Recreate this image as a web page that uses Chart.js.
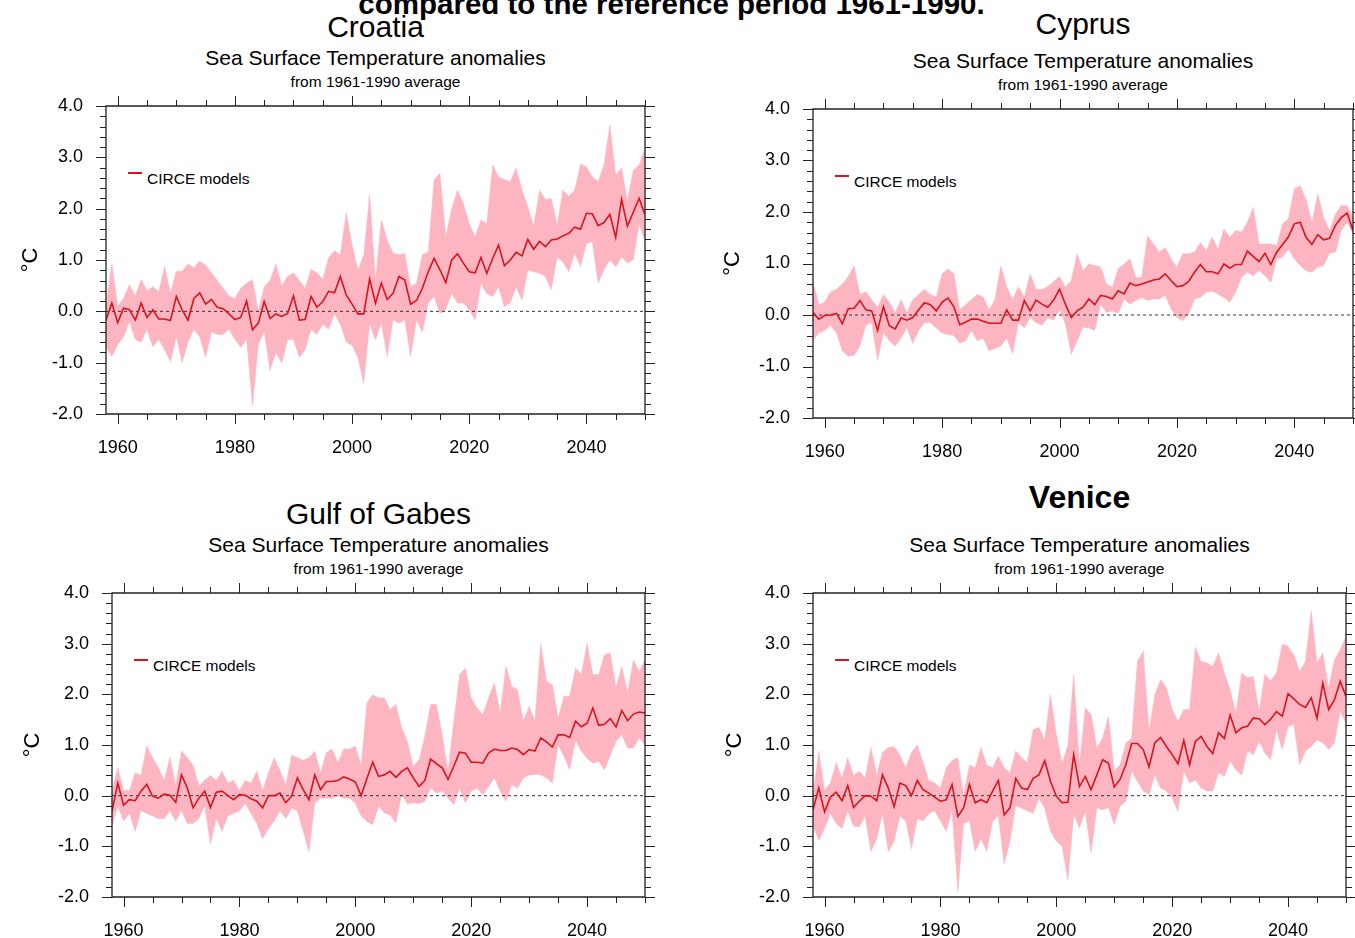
<!DOCTYPE html>
<html><head><meta charset="utf-8">
<script src="https://cdn.jsdelivr.net/npm/chart.js@4.4.0/dist/chart.umd.min.js"></script>
<style>
html,body{margin:0;padding:0;background:#fff;width:1355px;height:938px;overflow:hidden;position:relative;font-family:"Liberation Sans",Arial,Helvetica,sans-serif;}
canvas{position:absolute;}
.t{position:absolute;transform:translate(-50%,-50%);line-height:1;white-space:nowrap;color:#000;}
.legtxt{position:absolute;transform:translateY(-50%);line-height:1;white-space:nowrap;color:#000;font-size:15.5px;}
.legdash{position:absolute;width:14px;height:2px;background:#d7141e;}
</style></head><body>
<div class="t" style="left:671.5px;top:4px;font-size:29.5px;font-weight:bold;">compared to the reference period 1961-1990.</div>
<script>
// ---------------- data ----------------
const years = [];
for (let y = 1958; y <= 2050; y++) years.push(y);
const xTickYears = [1960, 1980, 2000, 2020, 2040];
const yTickVals = [-2, -1, 0, 1, 2, 3, 4];

const croatiaMean = [-0.17,0.16,-0.22,0.06,0.03,-0.17,0.16,-0.12,0.03,-0.15,-0.15,-0.18,0.29,0.03,-0.17,0.25,0.36,0.14,0.23,0.08,0.05,-0.05,-0.16,-0.12,0.20,-0.36,-0.23,0.19,-0.14,-0.05,-0.10,-0.04,0.30,-0.17,-0.16,0.29,0.08,0.19,0.39,0.36,0.68,0.32,0.14,-0.05,-0.05,0.63,0.16,0.55,0.23,0.35,0.68,0.61,0.14,0.21,0.45,0.77,1.03,0.81,0.56,1.00,1.12,0.94,0.77,0.75,1.05,0.74,1.03,1.29,0.89,1.00,1.15,1.08,1.40,1.21,1.36,1.26,1.39,1.41,1.47,1.52,1.64,1.60,1.91,1.90,1.67,1.73,1.89,1.44,2.18,1.66,1.93,2.20,1.88];
const croatiaMax = [0.10,0.94,0.10,0.25,0.52,0.30,0.62,0.40,0.48,0.38,0.88,0.35,0.78,0.78,0.92,0.85,0.98,0.90,0.75,0.60,0.45,0.30,0.25,0.45,0.55,0.62,0.00,0.48,0.60,0.92,0.50,0.68,0.75,0.60,0.45,0.82,0.75,0.62,1.05,1.18,1.10,1.92,1.30,0.80,1.10,2.28,0.60,1.78,1.39,1.13,1.10,1.13,0.48,0.55,1.10,1.16,2.56,2.69,1.45,2.00,2.36,2.10,1.71,1.45,1.78,1.71,2.85,2.62,2.57,2.53,2.79,2.36,2.04,1.66,2.36,2.18,2.20,1.68,2.36,2.24,2.36,2.87,2.81,2.62,2.53,2.85,3.63,2.66,2.79,2.14,2.75,2.85,3.18];
const croatiaMin = [-0.70,-0.88,-0.65,-0.50,-0.20,-0.55,-0.60,-0.35,-0.69,-0.55,-0.75,-0.98,-0.50,-0.99,-0.60,-0.35,-0.50,-0.90,-0.40,-0.45,-0.45,-0.35,-0.55,-0.70,-0.55,-1.85,-0.65,-0.40,-1.15,-0.80,-1.00,-0.55,-0.55,-0.90,-0.75,-0.35,-0.45,-0.25,-0.35,-0.05,-0.25,-0.60,-0.66,-0.90,-1.40,-0.23,-0.56,-0.23,-0.88,-0.17,-0.23,-0.17,-0.88,-0.17,-0.40,0.16,0.29,-0.04,0.03,0.35,0.16,0.16,0.03,-0.17,0.55,0.34,0.29,0.48,0.09,0.16,0.48,0.22,0.80,0.77,0.74,0.68,0.42,1.06,0.96,0.77,1.13,0.87,1.32,1.36,0.55,0.81,1.00,0.87,1.06,0.94,1.00,1.71,1.36];

const cyprusMean = [0.05,-0.08,-0.01,0.00,0.03,-0.17,0.12,0.13,0.28,0.10,0.08,-0.30,0.16,-0.21,-0.27,-0.06,-0.10,-0.05,0.10,0.24,0.20,0.08,0.25,0.33,0.16,-0.19,-0.14,-0.08,-0.08,-0.12,-0.16,-0.16,-0.16,0.10,-0.10,-0.10,0.28,0.08,0.29,0.21,0.15,0.29,0.50,0.21,-0.05,0.08,0.15,0.31,0.20,0.38,0.36,0.31,0.47,0.41,0.62,0.57,0.60,0.64,0.68,0.70,0.80,0.67,0.55,0.57,0.65,0.83,0.98,0.84,0.84,0.80,0.99,0.91,0.98,0.98,1.24,1.14,1.04,1.20,0.98,1.22,1.37,1.52,1.77,1.80,1.51,1.37,1.56,1.46,1.49,1.74,1.89,1.98,1.64];
const cyprusMax = [0.65,0.20,0.25,0.45,0.50,0.60,0.75,0.95,0.40,0.45,0.30,0.15,0.40,0.25,0.05,0.30,0.05,0.30,0.40,0.50,0.40,0.35,0.80,0.90,0.80,0.10,0.20,0.30,0.40,0.35,0.10,0.30,0.95,0.55,0.30,0.55,0.35,0.80,0.50,0.50,0.55,0.65,0.75,0.54,0.67,1.19,0.86,0.99,0.96,0.93,0.60,0.54,0.90,0.99,1.09,0.73,0.73,1.54,1.38,1.22,1.31,1.09,0.93,1.19,1.19,1.22,1.41,1.25,1.51,1.28,1.67,1.51,1.64,1.61,1.80,2.09,1.38,1.38,1.38,1.35,1.77,1.87,2.45,2.51,2.25,1.80,2.35,1.90,1.64,1.96,2.12,2.12,1.90];
const cyprusMin = [-0.50,-0.35,-0.30,-0.20,-0.35,-0.70,-0.80,-0.78,-0.60,-0.20,-0.15,-0.88,-0.35,-0.50,-0.60,-0.45,-0.25,-0.55,-0.30,-0.15,-0.15,-0.25,-0.35,-0.38,-0.40,-0.55,-0.50,-0.30,-0.50,-0.45,-0.70,-0.65,-0.60,-0.45,-0.75,-0.15,-0.25,-0.05,-0.15,-0.20,-0.05,-0.10,0.10,-0.17,-0.76,-0.50,-0.24,-0.25,-0.30,0.21,0.05,0.08,0.03,0.31,0.21,0.28,0.34,0.28,0.31,0.31,0.38,0.12,-0.05,-0.11,0.02,0.31,0.34,0.44,0.46,0.41,0.34,0.25,0.44,0.73,0.83,0.76,0.86,0.76,0.63,1.09,1.12,1.28,1.09,0.96,0.86,0.83,0.93,0.96,1.20,1.22,1.64,1.80,1.57];

const gabesMean = [-0.31,0.25,-0.19,-0.08,-0.10,0.09,0.22,-0.01,-0.05,0.03,0.01,-0.13,0.41,0.15,-0.24,-0.05,0.09,-0.23,0.07,0.09,0.00,-0.08,0.02,0.01,-0.06,-0.11,-0.24,0.00,0.00,0.05,-0.14,-0.01,0.35,0.12,-0.08,0.41,0.12,0.28,0.28,0.30,0.37,0.33,0.27,0.00,0.34,0.66,0.38,0.41,0.48,0.36,0.48,0.55,0.35,0.18,0.30,0.72,0.63,0.55,0.32,0.58,0.86,0.84,0.66,0.66,0.64,0.84,0.92,0.89,0.89,0.94,0.91,0.81,0.91,0.88,1.14,1.06,0.96,1.20,1.20,1.15,1.47,1.36,1.43,1.73,1.39,1.41,1.52,1.36,1.68,1.48,1.61,1.65,1.63];
const gabesMax = [0.10,0.55,0.10,0.10,0.45,0.40,0.98,0.75,0.55,0.30,0.75,0.20,0.88,0.75,0.60,0.20,0.30,0.40,0.30,0.48,0.25,0.30,0.10,0.30,0.25,0.48,0.10,0.45,0.75,0.50,0.20,0.80,0.75,0.70,0.75,0.88,0.45,0.85,0.92,0.65,0.92,0.92,0.98,0.60,1.83,1.99,1.93,1.93,1.70,1.80,1.34,1.07,0.58,0.71,1.17,1.80,1.80,1.20,0.48,1.47,2.39,2.52,1.93,1.73,1.60,1.93,2.22,1.63,2.55,2.16,2.09,1.47,1.76,1.47,3.01,2.26,2.19,1.53,1.96,1.96,2.52,2.39,3.01,2.39,2.39,2.78,2.82,2.13,2.55,2.03,2.68,2.45,2.68];
const gabesMin = [-0.60,-0.20,-0.50,-0.35,-0.70,-0.30,-0.35,-0.40,-0.45,-0.45,-0.30,-0.50,-0.30,-0.55,-0.55,-0.45,-0.20,-0.95,-0.45,-0.70,-0.40,-0.35,-0.30,-0.15,-0.35,-0.55,-0.85,-0.65,-0.50,-0.30,-0.45,-0.25,-0.30,-0.70,-1.10,-0.15,-0.05,-0.05,-0.05,0.00,-0.05,-0.05,-0.15,-0.40,-0.51,-0.57,-0.21,-0.34,-0.38,-0.54,0.02,-0.16,-0.14,-0.16,-0.11,0.15,0.05,0.09,-0.05,-0.18,0.15,-0.14,0.09,0.15,0.02,0.18,0.35,0.09,-0.11,0.22,0.15,0.35,0.41,0.42,0.41,0.35,0.25,1.00,0.78,0.51,1.10,0.88,0.74,0.64,0.68,0.51,0.80,1.07,1.20,0.94,0.94,1.14,1.00];

const veniceMean = [-0.28,0.15,-0.32,-0.03,0.07,-0.10,0.20,-0.23,-0.11,0.00,-0.01,-0.10,0.41,0.15,-0.22,0.25,0.20,0.00,0.30,0.12,0.05,-0.03,-0.11,-0.08,0.22,-0.41,-0.24,0.22,-0.14,-0.08,-0.14,0.09,0.30,-0.38,-0.24,0.34,0.15,0.12,0.34,0.41,0.69,0.28,-0.01,-0.14,-0.13,0.81,0.18,0.38,0.12,0.41,0.71,0.64,0.17,0.32,0.61,1.03,1.03,0.91,0.57,1.04,1.15,0.97,0.81,0.63,1.09,0.61,1.07,1.17,0.97,0.83,1.24,1.13,1.59,1.24,1.34,1.37,1.53,1.52,1.40,1.51,1.66,1.57,2.01,1.91,1.80,1.74,1.93,1.53,2.22,1.70,1.89,2.26,1.96];
const veniceMax = [0.00,0.88,0.10,0.25,0.65,0.35,0.75,0.40,0.48,0.35,0.95,0.40,0.85,0.95,0.97,0.80,0.55,0.85,1.00,0.65,0.30,0.25,0.15,0.55,0.70,0.75,0.00,0.60,0.55,0.95,0.60,0.55,0.78,0.55,0.45,0.88,0.75,0.65,1.30,1.35,1.10,1.99,1.20,0.64,1.00,2.39,0.61,1.73,1.60,0.94,1.14,1.57,0.48,0.61,1.04,1.14,2.65,2.85,1.27,1.99,2.29,2.13,1.70,1.47,1.70,1.70,2.93,2.65,2.62,2.55,2.82,2.42,2.09,1.63,2.42,2.33,2.35,1.66,2.40,2.27,2.42,2.99,2.95,2.78,2.45,2.65,3.65,2.62,2.82,2.13,2.68,2.88,3.14];
const veniceMin = [-0.60,-0.88,-0.65,-0.35,-0.55,-0.65,-0.30,-0.60,-0.62,-0.40,-1.10,-0.85,-0.35,-1.10,-0.90,-0.40,-0.50,-1.05,-0.45,-0.50,-0.35,-0.30,-0.50,-0.70,-0.30,-1.90,-0.55,-0.50,-1.10,-0.85,-1.10,-0.50,-0.40,-1.35,-0.90,-0.20,-0.25,-0.30,-0.35,-0.05,-0.25,-0.70,-0.90,-1.00,-1.66,-0.38,-0.64,-0.32,-1.13,-0.24,-0.28,-0.24,-0.57,-0.21,-0.11,0.48,0.28,0.09,0.02,0.41,0.15,0.09,-0.05,-0.31,0.48,0.25,0.31,0.15,0.09,0.09,0.45,0.38,0.68,0.51,0.41,0.88,0.81,1.07,0.84,0.71,1.30,0.91,1.37,1.40,0.61,0.88,0.97,1.10,1.04,0.91,1.04,1.66,1.43];

const seriesLabel = 'CIRCE models';
const subtitle1 = 'Sea Surface Temperature anomalies';
const subtitle2 = 'from 1961-1990 average';

// ---------------- layout ----------------
const FONT = '"Liberation Sans", Arial, Helvetica, sans-serif';
const RED = '#d7141e';
const PINK = '#fdb6c1';
Chart.defaults.font.family = FONT;
Chart.defaults.color = '#000';

const panels = [
  {name:'Croatia', bold:false, L:106, T:106, W:539, H:308, tcy:27, tfs:30, yTitlePad:18, mean:croatiaMean, max:croatiaMax, min:croatiaMin},
  {name:'Cyprus', bold:false, L:813, T:109, W:540, H:309, tcy:24, tfs:30, yTitlePad:13, mean:cyprusMean, max:cyprusMax, min:cyprusMin},
  {name:'Gulf of Gabes', bold:false, L:112, T:593, W:533, H:304, tcy:514, tfs:30, yTitlePad:14, mean:gabesMean, max:gabesMax, min:gabesMin},
  {name:'Venice', bold:true, L:813, T:593, W:533, H:304, tcy:497, tfs:32, yTitlePad:15, mean:veniceMean, max:veniceMax, min:veniceMin}
];

const frameTicks = {
  id: 'frameTicks',
  afterDatasetsDraw(chart) {
    const {ctx, chartArea: a, scales: {x, y}} = chart;
    ctx.save();
    ctx.strokeStyle = '#222';
    ctx.lineWidth = 1.3;
    ctx.beginPath();
    ctx.rect(a.left, a.top, a.right - a.left, a.bottom - a.top);
    ctx.stroke();
    ctx.lineWidth = 1;
    ctx.beginPath();
    for (let yr = 1960; yr <= 2050; yr += 5) {
      const px = Math.round(x.getPixelForValue(yr)) + 0.5;
      const len = (yr % 20 === 0) ? 10 : 6;
      ctx.moveTo(px, a.bottom); ctx.lineTo(px, a.bottom + len);
      ctx.moveTo(px, a.top); ctx.lineTo(px, a.top - len);
    }
    for (let k = -10; k <= 20; k++) {
      const py = Math.round(y.getPixelForValue(k / 5)) + 0.5;
      const len = (k % 5 === 0) ? 10 : 6;
      ctx.moveTo(a.left, py); ctx.lineTo(a.left - len, py);
      ctx.moveTo(a.right, py); ctx.lineTo(a.right + len, py);
    }
    ctx.stroke();
    ctx.restore();
  }
};

function addText(txt, cx, cy, size, bold) {
  const d = document.createElement('div');
  d.className = 't';
  d.textContent = txt;
  d.style.left = cx + 'px';
  d.style.top = cy + 'px';
  d.style.fontSize = size + 'px';
  if (bold) d.style.fontWeight = 'bold';
  document.body.appendChild(d);
}

panels.forEach(p => {
  const cx = p.L + p.W / 2;
  addText(p.name, cx, p.tcy, p.tfs, p.bold);
  addText(subtitle1, cx, p.T - 49, 21, false);
  addText(subtitle2, cx, p.T - 24, 15.5, false);

  const dash = document.createElement('div');
  dash.className = 'legdash';
  dash.style.left = (p.L + 22) + 'px';
  dash.style.top = (p.T + 66) + 'px';
  document.body.appendChild(dash);
  const lt = document.createElement('div');
  lt.className = 'legtxt';
  lt.textContent = seriesLabel;
  lt.style.left = (p.L + 41) + 'px';
  lt.style.top = (p.T + 73) + 'px';
  document.body.appendChild(lt);

  const cv = document.createElement('canvas');
  const cw = p.W + 118, ch = p.H + 70;
  cv.width = cw; cv.height = ch;
  cv.style.width = cw + 'px'; cv.style.height = ch + 'px';
  cv.style.left = (p.L - 106) + 'px';
  cv.style.top = (p.T - 20) + 'px';
  document.body.appendChild(cv);

  const pts = arr => arr.map((v, i) => ({x: years[i], y: v}));
  const noPad = s => { s.paddingTop = 0; s.paddingBottom = 0; s.paddingLeft = 0; s.paddingRight = 0; };
  new Chart(cv, {
    type: 'line',
    data: {
      datasets: [
        {label: seriesLabel, data: pts(p.mean), borderColor: RED, borderWidth: 1.6, pointRadius: 0, fill: false, tension: 0},
        {label: 'zero', data: [{x: years[0], y: 0}, {x: years[years.length - 1], y: 0}], borderColor: '#333', borderWidth: 1, borderDash: [3, 3], pointRadius: 0, fill: false},
        {label: 'max', data: pts(p.max), borderColor: PINK, borderWidth: 0.5, backgroundColor: PINK, pointRadius: 0, fill: '+1', tension: 0},
        {label: 'min', data: pts(p.min), borderColor: PINK, borderWidth: 0.5, pointRadius: 0, fill: false, tension: 0}
      ]
    },
    options: {
      responsive: false, animation: false, devicePixelRatio: 1,
      layout: {padding: {top: 20, right: 12, bottom: 0, left: 0}},
      plugins: {legend: {display: false}, tooltip: {enabled: false}},
      scales: {
        x: {
          type: 'linear', min: 1958, max: 2050, position: 'bottom',
          grid: {display: false, drawTicks: false}, border: {display: false},
          afterBuildTicks: s => { s.ticks = xTickYears.map(v => ({value: v})); },
          afterFit: s => { s.height = 50; noPad(s); },
          ticks: {autoSkip: false, maxRotation: 0, minRotation: 0, padding: 23, color: '#000', font: {size: 18}, callback: v => String(v)}
        },
        y: {
          min: -2, max: 4,
          grid: {display: false, drawTicks: false}, border: {display: false},
          afterBuildTicks: s => { s.ticks = yTickVals.map(v => ({value: v})); },
          afterFit: s => { s.width = 106; noPad(s); },
          ticks: {padding: 23, color: '#000', font: {size: 18}, callback: v => Number(v).toFixed(1)},
          title: {display: true, text: '°C', color: '#000', font: {size: 22}, padding: {top: p.yTitlePad, bottom: 0}}
        }
      }
    },
    plugins: [frameTicks]
  });
});
</script>
</body></html>
